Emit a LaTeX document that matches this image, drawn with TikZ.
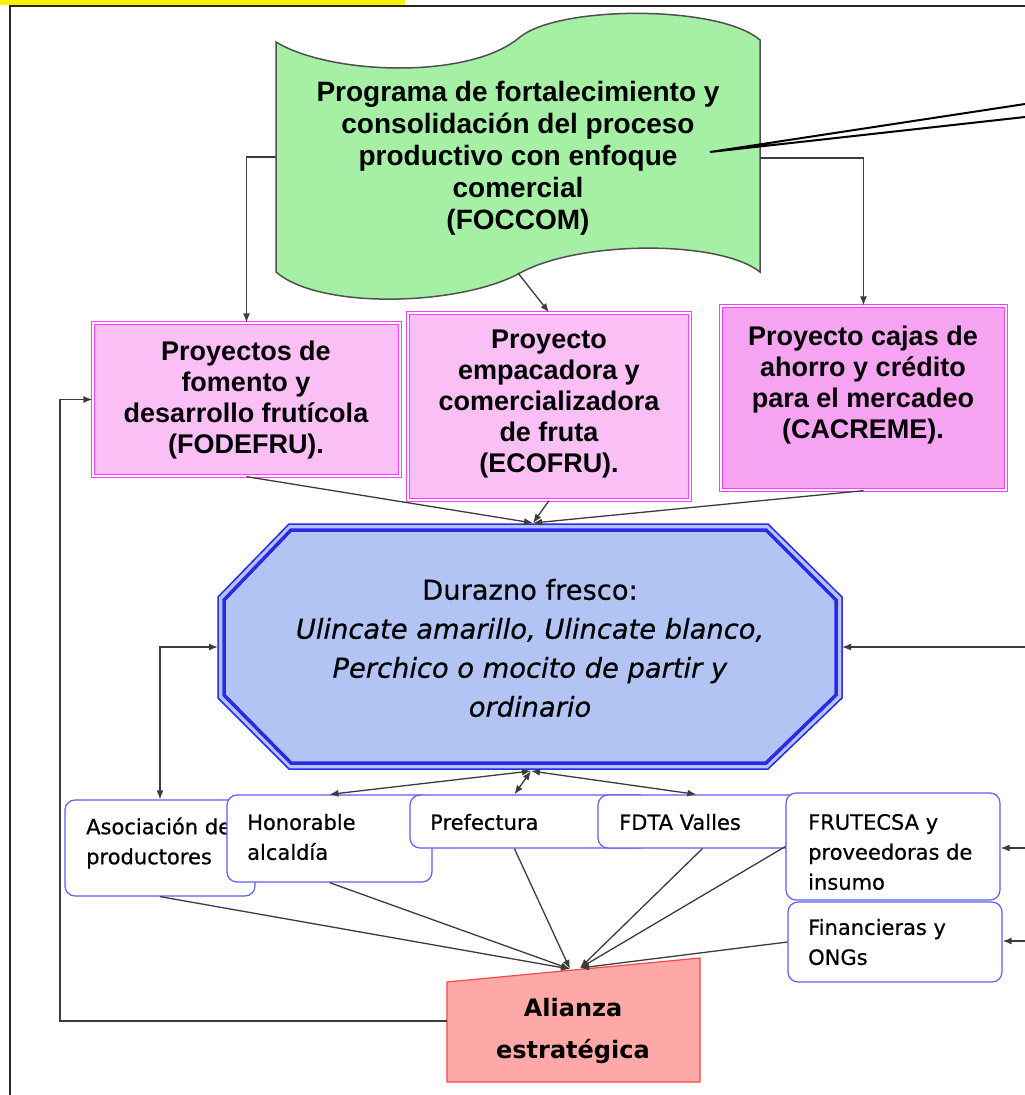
\documentclass[tikz,border=0pt]{standalone}
\usepackage{fontspec}
\setmainfont{Liberation Sans}
\newfontfamily\comicf[FakeBold=0.6]{DejaVu Sans}
\newfontfamily\comicr{DejaVu Sans}
\usetikzlibrary{arrows.meta,calc}
\definecolor{gfill}{RGB}{166,240,166}
\definecolor{gline}{RGB}{80,80,80}
\definecolor{pinkA}{RGB}{250,192,246}
\definecolor{pinkB}{RGB}{246,164,241}
\definecolor{magl}{RGB}{255,60,255}
\definecolor{ofill}{RGB}{178,196,244}
\definecolor{oline}{RGB}{42,42,230}
\definecolor{bline}{RGB}{95,95,240}
\definecolor{rfill}{RGB}{255,168,168}
\definecolor{rline}{RGB}{255,70,70}
\definecolor{conncol}{RGB}{60,60,60}
\begin{document}
\begin{tikzpicture}[x=1pt,y=-1pt,
  >={Latex[length=9pt,width=7pt]},
  conn/.style={draw=conncol, line width=1.3pt},
  callout/.style={draw=black, line width=2pt},
  pinkbox/.style={draw=magl, line width=1.3pt, double=white, double distance=1.8pt, inner sep=0pt},
  pinktxt/.style={align=center, inner sep=0pt, font=\bfseries\fontsize{27}{31}\selectfont},
  rbox/.style={draw=bline, line width=1.2pt, fill=white, rounded corners=10pt, inner sep=0pt},
  rtxt/.style={align=left, inner sep=0pt, anchor=west, font=\comicf\fontsize{21}{30}\selectfont}
]
\useasboundingbox (0,0) rectangle (1025,1095);
\fill[white] (0,0) rectangle (1025,1095);
% header bar and frame
\fill[yellow] (0,0) rectangle (405,5);
\coordinate (fTR) at (1025,6);
\coordinate (fTL) at (10,6);
\coordinate (fBL) at (10,1095);
\draw[line width=2pt, black!85] (fTR) -- (fTL) -- (fBL);

% green banner (tape)
\draw[fill=gfill, draw=gline, line width=1.5pt]
  (276,42) .. controls (330,75) and (470,80) .. (520,37)
  .. controls (560,5) and (720,5) .. (760,40)
  -- (760,272)
  .. controls (720,240) and (580,240) .. (520,273)
  .. controls (460,306) and (320,310) .. (276,272) -- cycle;
\node[align=center, inner sep=0pt, font=\bfseries\fontsize{28}{32}\selectfont] (gtxt) at (518,158)
  {Programa de fortalecimiento y\\consolidación del proceso\\productivo con enfoque\\comercial\\(FOCCOM)};
\coordinate (gL) at (276,157);
\coordinate (gR) at (760,158);
\coordinate (gB) at (518,273);
\coordinate (cl) at (710,152);
\coordinate (c1) at (1025,104);
\coordinate (c2) at (1025,117);
\draw[callout] (c1) -- (cl) -- (c2);

% pink boxes
\node[pinkbox, fill=pinkA, minimum width=307pt, minimum height=153pt] (b1) at (246.5,399.5) {};
\node[pinktxt] (b1t) at (246,400) {Proyectos de\\fomento y\\desarrollo frutícola\\(FODEFRU).};
\node[pinkbox, fill=pinkA, minimum width=282pt, minimum height=187pt] (b2) at (549,406.5) {};
\node[pinktxt] (b2t) at (549,404) {Proyecto\\empacadora y\\comercializadora\\de fruta\\(ECOFRU).};
\node[pinkbox, fill=pinkB, minimum width=285pt, minimum height=184pt] (b3) at (863.5,398) {};
\node[pinktxt] (b3t) at (863,385) {Proyecto cajas de\\ahorro y crédito\\para el mercadeo\\(CACREME).};

\draw[conn,->] (gL) -| (b1.north);
\draw[conn,->] (gB) -- (b2.north);
\draw[conn,->] (gR) -| (b3.north);

% octagon
\fill[ofill] (289,524)--(768,524)--(842,597)--(842,698)--(768,769)--(289,769)--(218,698)--(218,597)--cycle;
\draw[oline, line width=1.5pt] (289,524)--(768,524)--(842,597)--(842,698)--(768,769)--(289,769)--(218,698)--(218,597)--cycle;
\draw[oline, line width=3.5pt] (291,530)--(766,530)--(836,600)--(836,695)--(766,763)--(291,763)--(224,695)--(224,600)--cycle;
\node[align=center, inner sep=0pt, font=\comicf\fontsize{27.3}{39}\selectfont] (otxt) at (530,648)
  {Durazno fresco:\\\textit{Ulincate amarillo, Ulincate blanco,}\\\textit{Perchico o mocito de partir y}\\\textit{ordinario}};
\coordinate (octT) at (533,523);
\coordinate (octB) at (531,771);
\coordinate (octL) at (218,647);
\coordinate (octR) at (842,647);
\coordinate (rin1) at (1025,647);

\draw[conn,->] (b1.south) -- (octT);
\draw[conn,->] (b2.south) -- (octT);
\draw[conn,->] (b3.south) -- (octT);
\draw[conn,->] (rin1) -- (octR);

% bottom boxes
\node[rbox, minimum width=190pt, minimum height=96pt] (aso) at (160,848) {};
\node[rtxt] (asot) at (86,843) {Asociación de\\productores};
\node[rbox, minimum width=205pt, minimum height=87pt] (hon) at (329.5,838.5) {};
\node[rtxt] (hont) at (247,837) {Honorable\\alcaldía};
\node[rbox, minimum width=240pt, minimum height=53pt] (pre) at (530,821.5) {};
\node[rtxt] (pret) at (430,822) {Prefectura};
\node[rbox, minimum width=212pt, minimum height=53pt] (fdta) at (704,821.5) {};
\node[rtxt] (fdtat) at (619,822) {FDTA Valles};
\node[rbox, minimum width=214pt, minimum height=107pt] (fru) at (893,846.5) {};
\node[rtxt] (frut) at (808,852) {FRUTECSA y\\proveedoras de\\insumo};
\node[rbox, minimum width=214pt, minimum height=80pt] (fin) at (895,942) {};
\node[rtxt] (fint) at (808,942) {Financieras y\\ONGs};

\draw[conn,<->] (octL) -| (aso.north);
\draw[conn,<->] (octB) -- (hon.north);
\draw[conn,<->] (octB) -- ([xshift=105pt]pre.north west);
\draw[conn,<->] (octB) -- ([xshift=99pt]fdta.north west);

\coordinate (rin2) at (1025,848);
\coordinate (rin3) at (1025,941);
\draw[conn,->] (rin2) -- (rin2 -| fru.east);
\draw[conn,->] (rin3) -- (rin3 -| fin.east);

% alianza
\fill[rfill] (447,982) -- (700,958) -- (700,1082) -- (447,1082) -- cycle;
\draw[rline, line width=1.2pt] (447,982) -- (700,958) -- (700,1082) -- (447,1082) -- cycle;
\node[align=center, inner sep=0pt, font=\comicr\bfseries\fontsize{24}{42}\selectfont] (alt) at (573,1031) {Alianza\\estratégica};
\coordinate (alA) at (570,969);
\coordinate (alB) at (580,968);
\coordinate (alL) at (447,1021);
\coordinate (fb) at (60,1021);

\draw[conn,->] (aso.south) -- (alA);
\draw[conn,->] (hon.south) -- (alA);
\draw[conn,->] ([xshift=105pt]pre.south west) -- (alA);
\draw[conn,->] ([xshift=105pt]fdta.south west) -- (alB);
\draw[conn,->] (fru.west) -- (alB);
\draw[conn,->] (fin.west) -- (alB);
\draw[conn,->] (alL) -- (fb) |- (b1.west);
\end{tikzpicture}
\end{document}
